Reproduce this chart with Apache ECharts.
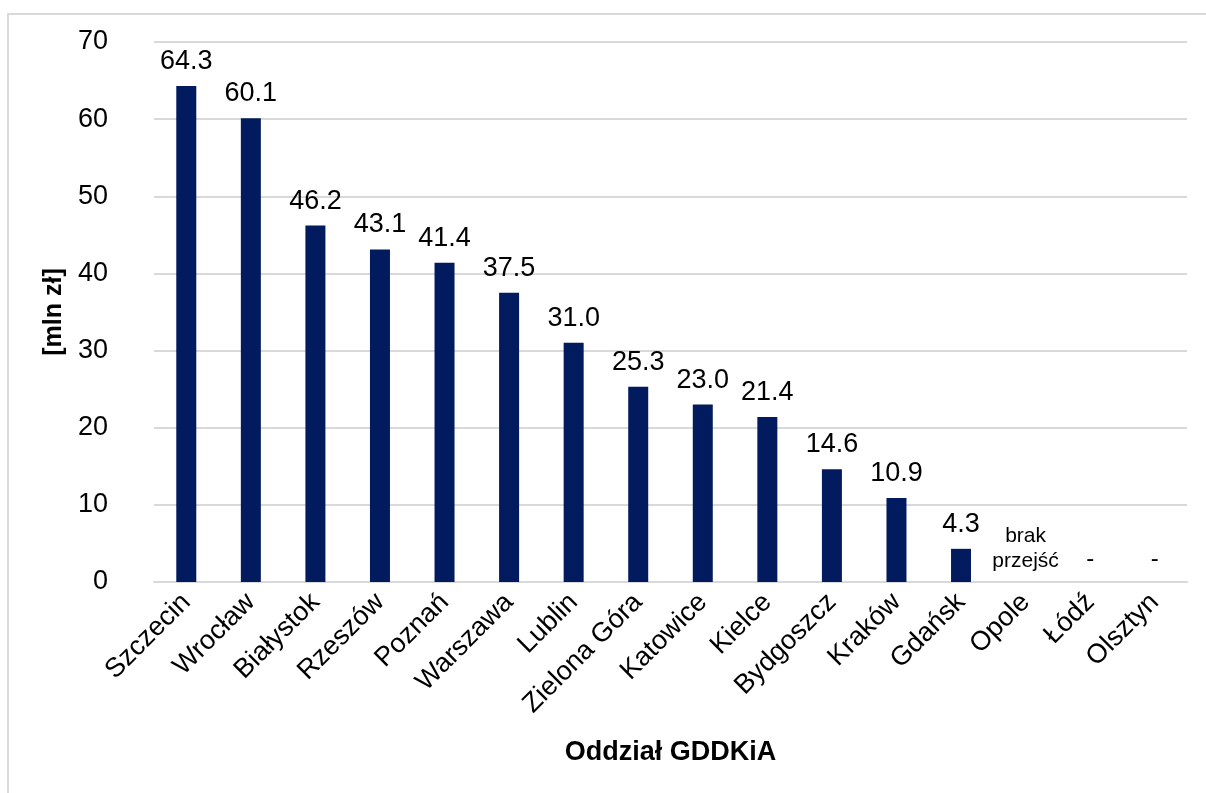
<!DOCTYPE html>
<html>
<head>
<meta charset="utf-8">
<script src="https://cdn.jsdelivr.net/npm/echarts@6/dist/echarts.min.js"></script>
<style>
  html, body { margin: 0; padding: 0; background: #fff; }
  #frame { position: absolute; left: 7px; top: 13px; width: 1220px; height: 800px;
           border-left: 2px solid #d9d9d9; border-top: 2px solid #d9d9d9; box-sizing: border-box; }
  #chart { position: absolute; left: 0; top: 0; width: 1206px; height: 793px; }
</style>
</head>
<body>
<div id="frame"></div>
<div id="chart"></div>
<script>
// Oddziały GDDKiA
const categories = ['Szczecin', 'Wrocław', 'Białystok', 'Rzeszów', 'Poznań', 'Warszawa', 'Lublin',
  'Zielona Góra', 'Katowice', 'Kielce', 'Bydgoszcz', 'Kraków', 'Gdańsk', 'Opole', 'Łódź', 'Olsztyn'];
// wartości w mln zł (null = brak danych)
const values = [64.3, 60.1, 46.2, 43.1, 41.4, 37.5, 31.0, 25.3, 23.0, 21.4, 14.6, 10.9, 4.3, null, null, null];
// opisy dla oddziałów bez wartości
const notes = ['', '', '', '', '', '', '', '', '', '', '', '', '', 'brak\nprzejść', '-', '-'];
const yTicks = [0, 10, 20, 30, 40, 50, 60, 70];

const FONT = 'Liberation Sans, Arial, sans-serif';
const BAR = '#021b5e';
const FS = 27;

const seriesData = values.map((v, i) => {
  if (v === null) {
    const isDash = notes[i] === '-';
    return {
      value: 0,
      itemStyle: { color: 'rgba(0,0,0,0)' },
      label: {
        show: true,
        position: 'top',
        distance: isDash ? 10 : 8,
        formatter: notes[i],
        fontSize: isDash ? 24 : 21,
        lineHeight: 25,
        color: '#000',
        fontFamily: FONT
      }
    };
  }
  return { value: v };
});

const chart = echarts.init(document.getElementById('chart'), null, { renderer: 'canvas' });
chart.setOption({
  animation: false,
  backgroundColor: 'transparent',
  grid: { left: 154, right: 19, top: 42, bottom: 211, containLabel: false },
  xAxis: {
    type: 'category',
    data: categories,
    name: 'Oddział GDDKiA',
    nameLocation: 'middle',
    nameGap: 157,
    nameTextStyle: { fontSize: FS, fontWeight: 'bold', color: '#000', fontFamily: FONT },
    axisLine: { lineStyle: { color: '#d9d9d9', width: 2 } },
    axisTick: { show: false },
    axisLabel: { interval: 0, rotate: 45, fontSize: FS, color: '#000', fontFamily: FONT, margin: 16 }
  },
  yAxis: {
    type: 'value',
    min: yTicks[0],
    max: yTicks[yTicks.length - 1],
    interval: 10,
    name: '[mln zł]',
    nameLocation: 'middle',
    nameGap: 75,
    nameRotate: 90,
    nameTextStyle: { fontSize: 25, fontWeight: 'bold', color: '#000', fontFamily: FONT },
    axisLine: { show: false },
    axisTick: { show: false },
    axisLabel: { fontSize: FS, color: '#000', fontFamily: FONT, margin: 46 },
    splitLine: { lineStyle: { color: '#d9d9d9', width: 2 } }
  },
  series: [{
    type: 'bar',
    data: seriesData,
    barWidth: 20,
    itemStyle: { color: BAR },
    label: {
      show: true,
      position: 'top',
      distance: 11,
      fontSize: FS,
      color: '#000',
      fontFamily: FONT,
      formatter: p => values[p.dataIndex] !== null ? values[p.dataIndex].toFixed(1) : notes[p.dataIndex]
    }
  }]
});
</script>
</body>
</html>
